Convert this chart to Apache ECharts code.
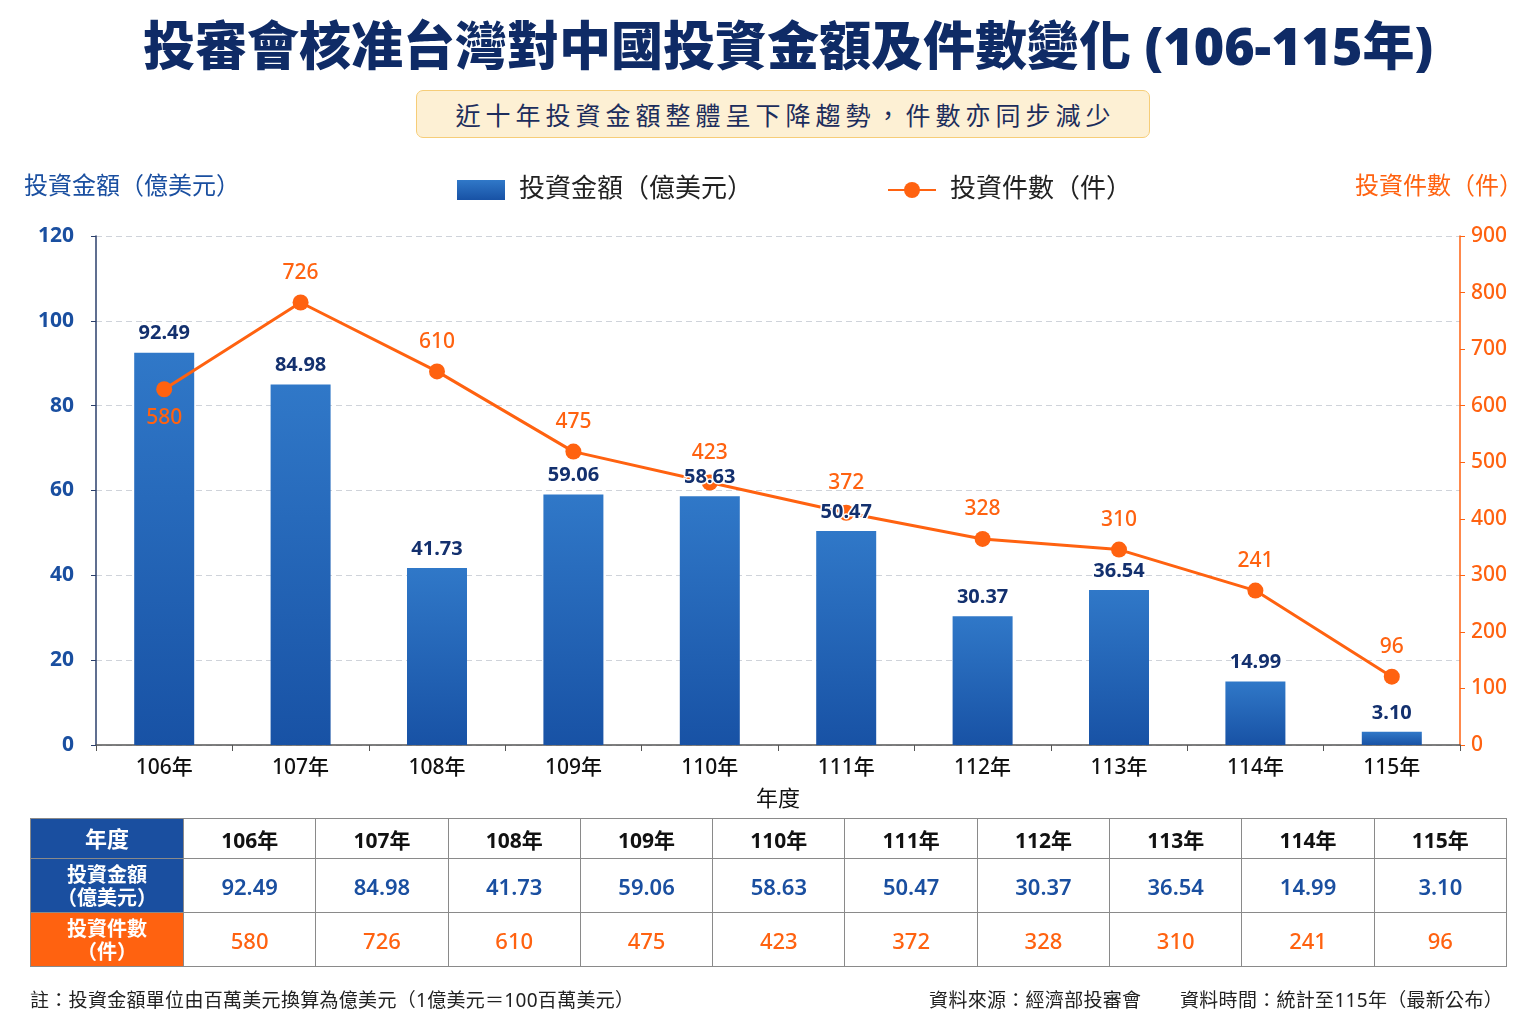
<!DOCTYPE html>
<html><head><meta charset="utf-8">
<script src="https://cdn.jsdelivr.net/npm/echarts@6/dist/echarts.min.js"></script>
<style>
html,body{margin:0;padding:0;background:#fff;}
#wrap{position:relative;width:1536px;height:1024px;overflow:hidden;font-family:"Noto Sans","Noto Sans CJK TC",sans-serif;}
#chart{position:absolute;left:0;top:0;width:1536px;height:1024px;}
#sub{position:absolute;left:416px;top:90px;width:727px;height:46px;border:1.5px solid #f6cd78;border-radius:7px;background:#fdf0d4;
 color:#1c2d5c;font-size:25px;letter-spacing:5px;line-height:46px;text-align:center;font-family:"Noto Sans CJK TC",sans-serif;padding-left:5px;box-sizing:content-box;}
#tbl{position:absolute;left:30px;top:818px;border-collapse:collapse;table-layout:fixed;width:1477px;}
#tbl td{border:1px solid #8a8a8a;text-align:center;padding:0;font-family:"Noto Sans","Noto Sans CJK TC",sans-serif;}
#tbl td.h{color:#fff;font-weight:bold;font-size:20px;line-height:23px;}
.note{position:absolute;top:985px;font-size:19px;letter-spacing:0.3px;color:#222;font-family:"Noto Sans","Noto Sans CJK TC",sans-serif;white-space:pre;}
</style></head>
<body><div id="wrap"><div id="chart"></div><div id="sub"></div><table id="tbl"></table>
<div class="note" id="n1" style="left:30px;"></div>
<div class="note" id="n2" style="right:33px;"></div>
</div>
<script>
const categories = ['106年','107年','108年','109年','110年','111年','112年','113年','114年','115年'];
const amounts = [92.49, 84.98, 41.73, 59.06, 58.63, 50.47, 30.37, 36.54, 14.99, 3.10];
const counts = [580, 726, 610, 475, 423, 372, 328, 310, 241, 96];
const titleText = '投審會核准台灣對中國投資金額及件數變化 (106-115年)';
const subtitleText = '近十年投資金額整體呈下降趨勢，件數亦同步減少';
const seriesNames = ['投資金額（億美元）', '投資件數（件）'];
const xAxisName = '年度';
const rowHeads = ['年度', '投資金額<br>（億美元）', '投資件數<br>（件）'];
const note1 = '註：投資金額單位由百萬美元換算為億美元（1億美元＝100百萬美元）';
const note2 = '資料來源：經濟部投審會　　資料時間：統計至115年（最新公布）';

const BLUE = '#1a4fa0', NAVY = '#13306e', ORANGE = '#ff6210';
const FF = '"Noto Sans","Noto Sans CJK TC",sans-serif';

document.getElementById('sub').textContent = subtitleText;

const chart = echarts.init(document.getElementById('chart'));
chart.setOption({
  backgroundColor: '#fff',
  textStyle: {fontFamily: FF},
  title: {text: titleText, left: 138, top: 19,
    textStyle: {fontSize: 52, fontWeight: 900, color: '#0f2b66', fontFamily: FF}},
  legend: {top: 172, left: 452, itemGap: 134, itemWidth: 48, itemHeight: 20,
    textStyle: {fontSize: 26, color: '#222', fontFamily: FF, padding: [0, 0, 0, 9]},
    data: [{name: seriesNames[0], icon: 'rect'}, {name: seriesNames[1]}]},
  grid: {left: 96, right: 76, top: 236, bottom: 279, containLabel: false},
  xAxis: {type: 'category', data: categories, boundaryGap: true,
    name: xAxisName, nameLocation: 'middle', nameGap: 44,
    nameTextStyle: {fontSize: 22, color: '#111', fontFamily: FF},
    axisLine: {lineStyle: {color: '#555', width: 1.5}},
    axisTick: {show: true, length: 6, lineStyle: {color: '#555'}},
    axisLabel: {fontSize: 21, color: '#111', fontWeight: 500, margin: 13, fontFamily: FF}},
  yAxis: [
    {type: 'value', min: 0, max: 120, interval: 20, position: 'left',
     name: seriesNames[0], nameLocation: 'end', nameGap: 37,
     nameTextStyle: {fontSize: 24, color: BLUE, align: 'left', padding: [0, 0, 0, -72], fontFamily: FF},
     axisLine: {show: true, lineStyle: {color: '#2b3f6b', width: 1.5}},
     axisTick: {show: true, length: 5, lineStyle: {color: '#2b3f6b'}},
     axisLabel: {fontSize: 21, color: BLUE, fontWeight: 'bold', margin: 22, fontFamily: FF},
     splitLine: {show: true, lineStyle: {color: '#cfd3da', type: [6, 4]}}},
    {type: 'value', min: 0, max: 900, interval: 100, position: 'right',
     name: seriesNames[1], nameLocation: 'end', nameGap: 37,
     nameTextStyle: {fontSize: 24, color: ORANGE, align: 'right', padding: [0, -63, 0, 0], fontFamily: FF},
     axisLine: {show: true, lineStyle: {color: ORANGE, width: 1.5}},
     axisTick: {show: true, length: 5, lineStyle: {color: ORANGE}},
     axisLabel: {fontSize: 21, color: ORANGE, fontWeight: 500, margin: 11, fontFamily: FF},
     splitLine: {show: false}},
    // scale the reference picture uses to place the line's points
    {type: 'value', min: -19, max: 838, show: false, position: 'right'}
  ],
  series: [
    {name: seriesNames[0], type: 'bar', yAxisIndex: 0, barWidth: 60, z: 2,
     data: amounts,
     itemStyle: {color: new echarts.graphic.LinearGradient(0, 0, 0, 1,
       [{offset: 0, color: '#3078c8'}, {offset: 1, color: '#1852a5'}])}},
    {name: seriesNames[1], type: 'line', yAxisIndex: 2,
     data: counts.map((v, i) => i === 0 ? {value: v, label: {position: 'bottom', distance: 10}} : v),
     lineStyle: {color: ORANGE, width: 3}, itemStyle: {color: ORANGE},
     symbol: 'circle', symbolSize: 16, z: 5,
     label: {show: true, position: 'top', distance: 11, fontSize: 21, fontWeight: 500, color: ORANGE, fontFamily: FF}},
    // value labels of the bars, drawn above the line
    {name: 'barLabels', type: 'bar', yAxisIndex: 0, barWidth: 60, barGap: '-100%', z: 10, silent: true,
     data: amounts, itemStyle: {color: 'rgba(0,0,0,0)'}, tooltip: {show: false},
     label: {show: true, position: 'top', distance: 9, fontSize: 20, fontWeight: 'bold', color: NAVY,
       textBorderColor: '#fff', textBorderWidth: 3,
       fontFamily: FF, formatter: p => p.value.toFixed(2)}}
  ]
});

// table
const tbl = document.getElementById('tbl');
let html = '<colgroup><col style="width:153px">' + categories.map(() => '<col>').join('') + '</colgroup>';
html += '<tr style="height:40px"><td class="h" style="background:' + BLUE + ';font-size:22px">' + rowHeads[0] + '</td>' +
  categories.map(c => '<td style="font-size:21px;font-weight:bold;color:#111">' + c + '</td>').join('') + '</tr>';
html += '<tr style="height:54px"><td class="h" style="background:' + BLUE + '">' + rowHeads[1] + '</td>' +
  amounts.map(v => '<td style="font-size:22px;font-weight:600;color:' + BLUE + '">' + v.toFixed(2) + '</td>').join('') + '</tr>';
html += '<tr style="height:54px"><td class="h" style="background:' + ORANGE + '">' + rowHeads[2] + '</td>' +
  counts.map(v => '<td style="font-size:22px;font-weight:500;color:' + ORANGE + '">' + v + '</td>').join('') + '</tr>';
tbl.innerHTML = html;
document.getElementById('n1').textContent = note1;
document.getElementById('n2').textContent = note2;
</script></body></html>
